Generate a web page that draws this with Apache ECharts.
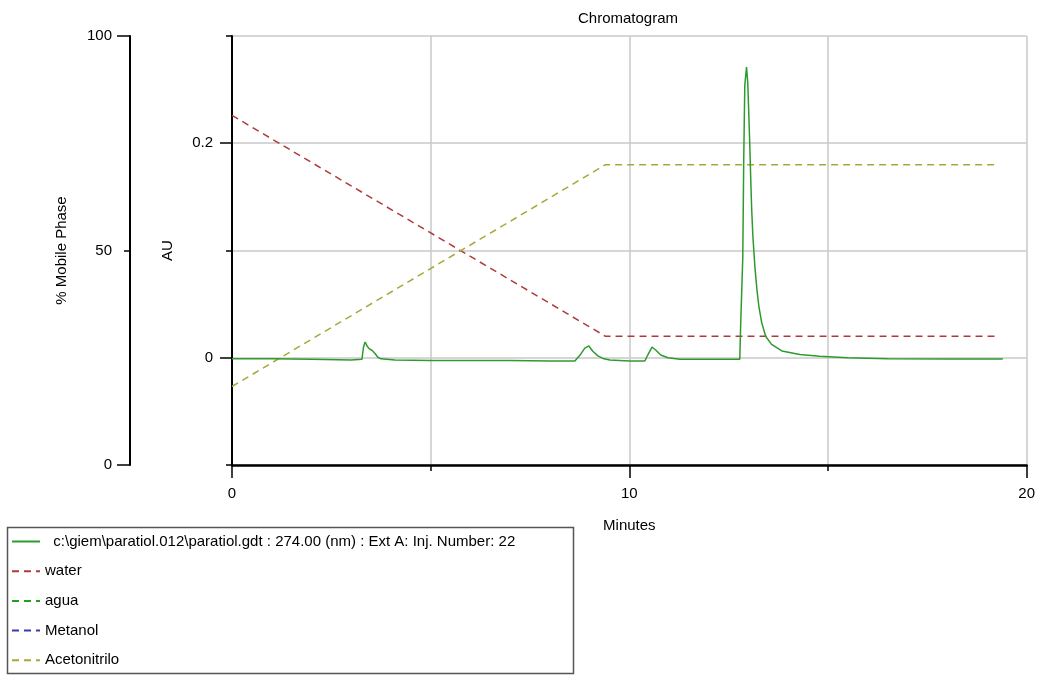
<!DOCTYPE html>
<html><head><meta charset="utf-8">
<script src="https://cdn.jsdelivr.net/npm/echarts@6/dist/echarts.min.js"></script>
<style>html,body{margin:0;padding:0;background:#fff}#c{width:1038px;height:675px}</style>
</head><body><div id="c"></div>
<script>
// ---- data ----
const seriesNames = ['c:\\giem\\paratiol.012\\paratiol.gdt : 274.00 (nm) : Ext A: Inj. Number: 22', 'water', 'agua', 'Metanol', 'Acetonitrilo'];
const chromTime = [0, 1.0, 2.0, 3.0, 3.27, 3.31, 3.35, 3.40, 3.45, 3.52, 3.60, 3.67, 3.75, 4.1, 5, 6, 7, 8, 8.63, 8.75, 8.88, 8.98, 9.08, 9.21, 9.36, 9.51, 10.0, 10.39, 10.47, 10.57, 10.67, 10.79, 10.97, 11.27, 12.0, 12.78, 12.80, 12.855, 12.88, 12.906, 12.95, 12.98, 13.006, 13.03, 13.06, 13.08, 13.11, 13.16, 13.21, 13.26, 13.33, 13.43, 13.58, 13.84, 14.29, 14.79, 15.5, 16.5, 18, 19.4];
const chromAU = [-0.001, -0.001, -0.0015, -0.002, -0.0015, 0.010, 0.0147, 0.011, 0.0085, 0.007, 0.004, 0.0005, -0.001, -0.002, -0.0025, -0.0025, -0.0025, -0.003, -0.003, 0.002, 0.009, 0.011, 0.006, 0.0017, -0.001, -0.002, -0.003, -0.003, 0.003, 0.010, 0.007, 0.0026, 0.0, -0.0014, -0.0014, -0.0014, 0.028, 0.093, 0.187, 0.254, 0.271, 0.257, 0.228, 0.200, 0.161, 0.138, 0.113, 0.085, 0.064, 0.048, 0.033, 0.020, 0.0125, 0.0063, 0.003, 0.0014, 0.0, -0.001, -0.0012, -0.0012];
const waterTime = [0, 9.4, 19.3];
const waterPct = [81.5, 30, 30];
const acnTime = [0, 9.4, 19.3];
const acnPct = [18.3, 70, 70];
const xTickLabels = [0, 10, 20];
const auTickLabels = [0, 0.2];
const pctTickLabels = [0, 50, 100];
const pctLongTicks = [0, 100];

// ---- chart ----
const FONT = 'Liberation Sans, Arial, sans-serif';
const zip = (a, b) => a.map((v, i) => [v, b[i]]);
const GRID = '#c8c8c8';
const chart = echarts.init(document.getElementById('c'), null, {renderer: 'canvas'});
const dash = [7, 5];
chart.setOption({
  animation: false,
  backgroundColor: '#fff',
  textStyle: {fontFamily: FONT},
  title: {text: 'Chromatogram', left: 578, top: 11, padding: 0,
    textStyle: {fontSize: 15, fontWeight: 'normal', color: '#000', fontFamily: FONT}},
  grid: {left: 232, right: 11, top: 36, bottom: 210, containLabel: false},
  legend: {
    orient: 'vertical', left: 11, top: 534, padding: 0,
    itemWidth: 28, itemHeight: 14, itemGap: 14.7,
    data: seriesNames,
    formatter: n => (n === seriesNames[0] ? '  ' + n : n),
    itemStyle: {color: 'rgba(0,0,0,0)', borderWidth: 0, opacity: 0},
    textStyle: {fontSize: 15, color: '#000', fontFamily: FONT}
  },
  graphic: [{type: 'rect', shape: {x: 7.5, y: 527.5, width: 566, height: 146},
    style: {fill: 'none', stroke: '#555', lineWidth: 1.5}, silent: true}],
  xAxis: [
    {type: 'value', min: 0, max: 20, interval: 5, position: 'bottom',
     axisLine: {show: true, onZero: false, lineStyle: {color: '#000', width: 2.5}},
     axisTick: {show: true, length: 6, lineStyle: {color: '#000', width: 1.5}},
     axisLabel: {show: false},
     splitLine: {show: true, lineStyle: {color: GRID, width: 1.5}}},
    {type: 'value', min: 0, max: 20, position: 'bottom', offset: 0,
     name: 'Minutes', nameLocation: 'middle', nameGap: 53,
     nameTextStyle: {fontSize: 15, color: '#000', fontFamily: FONT},
     axisLine: {show: false, onZero: false},
     axisTick: {show: true, length: 13, customValues: xTickLabels, lineStyle: {color: '#000', width: 1.5}},
     axisLabel: {show: true, customValues: xTickLabels, margin: 21, fontSize: 15, color: '#000', fontFamily: FONT},
     splitLine: {show: false}}
  ],
  yAxis: [
    {type: 'value', min: -0.1, max: 0.3, interval: 0.1, position: 'left', offset: 0,
     axisLine: {show: true, onZero: false, lineStyle: {color: '#000', width: 2}},
     axisTick: {show: true, length: 6, lineStyle: {color: '#000', width: 1.5}},
     axisLabel: {show: false},
     splitLine: {show: true, lineStyle: {color: GRID, width: 1.5}}},
    {type: 'value', min: -0.1, max: 0.3, position: 'left', offset: 0,
     name: 'AU', nameLocation: 'middle', nameGap: 57, nameRotate: 90,
     nameTextStyle: {fontSize: 15, color: '#000', fontFamily: FONT},
     axisLine: {show: false, onZero: false},
     axisTick: {show: true, length: 12, customValues: auTickLabels, lineStyle: {color: '#000', width: 1.5}},
     axisLabel: {show: true, customValues: auTickLabels, margin: 19, fontSize: 15, color: '#000', fontFamily: FONT},
     splitLine: {show: false}},
    {type: 'value', min: 0, max: 100, interval: 50, position: 'left', offset: 102,
     name: '% Mobile Phase', nameLocation: 'middle', nameGap: 61, nameRotate: 90,
     nameTextStyle: {fontSize: 15, color: '#000', fontFamily: FONT},
     axisLine: {show: true, onZero: false, lineStyle: {color: '#000', width: 2}},
     axisTick: {show: true, length: 6, lineStyle: {color: '#000', width: 1.5}},
     axisLabel: {show: true, customValues: pctTickLabels, margin: 18, fontSize: 15, color: '#000', fontFamily: FONT},
     splitLine: {show: false}},
    {type: 'value', min: 0, max: 100, position: 'left', offset: 102,
     axisLine: {show: false, onZero: false},
     axisTick: {show: true, length: 13, customValues: pctLongTicks, lineStyle: {color: '#000', width: 1.5}},
     axisLabel: {show: false},
     splitLine: {show: false}}
  ],
  series: [
    {name: seriesNames[1], type: 'line', xAxisIndex: 0, yAxisIndex: 2, symbol: 'none',
     data: zip(waterTime, waterPct), lineStyle: {color: '#b03a3a', width: 1.5, type: dash}, itemStyle: {color: '#b03a3a'}},
    {name: seriesNames[2], type: 'line', xAxisIndex: 0, yAxisIndex: 2, symbol: 'none',
     data: [], lineStyle: {color: '#22a022', width: 1.5, type: dash}, itemStyle: {color: '#22a022'}},
    {name: seriesNames[3], type: 'line', xAxisIndex: 0, yAxisIndex: 2, symbol: 'none',
     data: [], lineStyle: {color: '#3a3ab0', width: 1.5, type: dash}, itemStyle: {color: '#3a3ab0'}},
    {name: seriesNames[4], type: 'line', xAxisIndex: 0, yAxisIndex: 2, symbol: 'none',
     data: zip(acnTime, acnPct), lineStyle: {color: '#a8a83a', width: 1.5, type: dash}, itemStyle: {color: '#a8a83a'}},
    {name: seriesNames[0], type: 'line', xAxisIndex: 0, yAxisIndex: 0, symbol: 'none',
     data: zip(chromTime, chromAU), lineStyle: {color: '#2e9a2e', width: 1.5}, itemStyle: {color: '#2e9a2e'}}
  ]
});
</script></body></html>
